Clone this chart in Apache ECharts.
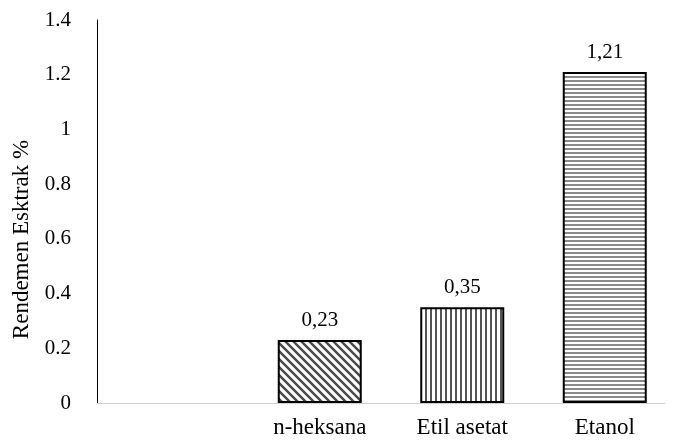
<!DOCTYPE html>
<html><head><meta charset="utf-8">
<script src="https://cdn.jsdelivr.net/npm/echarts@6/dist/echarts.min.js"></script>
<style>html,body{margin:0;padding:0;background:#fff}#c{width:680px;height:444px}</style>
</head><body><div id="c"></div>
<script>
const categories = ['', 'n-heksana', 'Etil asetat', 'Etanol'];
const values = [null, 0.23, 0.35, 1.21];
const valueLabels = ['', '0,23', '0,35', '1,21'];
const yTicks = [0, 0.2, 0.4, 0.6, 0.8, 1, 1.2, 1.4];

function pat(w, h, draw) {
  const c = document.createElement('canvas');
  c.width = w; c.height = h;
  const g = c.getContext('2d');
  g.fillStyle = '#fff'; g.fillRect(0, 0, w, h);
  draw(g);
  return { image: c, repeat: 'repeat' };
}
const diag = pat(8, 8, g => {
  g.strokeStyle = '#4a4a4a'; g.lineWidth = 2.4;
  g.beginPath();
  g.moveTo(-2, -2); g.lineTo(10, 10);
  g.moveTo(-2, 6); g.lineTo(2, 10);
  g.moveTo(6, -2); g.lineTo(10, 2);
  g.stroke();
});
const vert = pat(5, 2, g => { g.fillStyle = '#555'; g.fillRect(0, 0, 2, 2); });
const horiz = pat(2, 4, g => { g.fillStyle = '#8a8a8a'; g.fillRect(0, 0, 2, 2); });
const patterns = [null, diag, vert, horiz];

const font = 'Liberation Serif';
const chart = echarts.init(document.getElementById('c'), null, { renderer: 'canvas' });
chart.setOption({
  animation: false,
  grid: [
    { left: 97, right: 15, top: 20, bottom: 41 },
    { left: 106, right: 4, top: 20, bottom: 41 }
  ],
  xAxis: [{
    gridIndex: 0, type: 'category', data: categories,
    axisLine: { lineStyle: { color: '#cfcfcf', width: 1 } },
    axisTick: { show: false }, axisLabel: { show: false }
  }, {
    gridIndex: 1, type: 'category', data: categories,
    axisLine: { show: false }, axisTick: { show: false },
    axisLabel: { color: '#000', fontFamily: font, fontSize: 23, margin: 13 }
  }],
  yAxis: [{
    gridIndex: 0, type: 'value', min: 0, max: 1.4, interval: 0.2,
    name: 'Rendemen Esktrak %', nameLocation: 'middle', nameGap: 62,
    nameTextStyle: { color: '#000', fontFamily: font, fontSize: 23, padding: [0, 56, 0, 0] },
    axisLine: { show: true, lineStyle: { color: '#000', width: 1 } },
    axisTick: { show: false },
    splitLine: { show: false },
    axisLabel: { color: '#000', fontFamily: font, fontSize: 21, margin: 26,
      formatter: v => String(yTicks.find(t => Math.abs(t - v) < 1e-6) ?? v) }
  }, {
    gridIndex: 1, type: 'value', min: 0, max: 1.4, interval: 0.2, show: false
  }],
  series: [{
    type: 'bar', xAxisIndex: 1, yAxisIndex: 1, barWidth: 84,
    data: values.map((v, i) => ({
      value: v,
      itemStyle: { color: patterns[i] || '#fff', borderColor: '#000', borderWidth: 2 }
    })),
    label: { show: true, position: 'top', distance: 9, color: '#000',
      fontFamily: font, fontSize: 21,
      formatter: p => valueLabels[p.dataIndex] }
  }]
});
</script></body></html>
